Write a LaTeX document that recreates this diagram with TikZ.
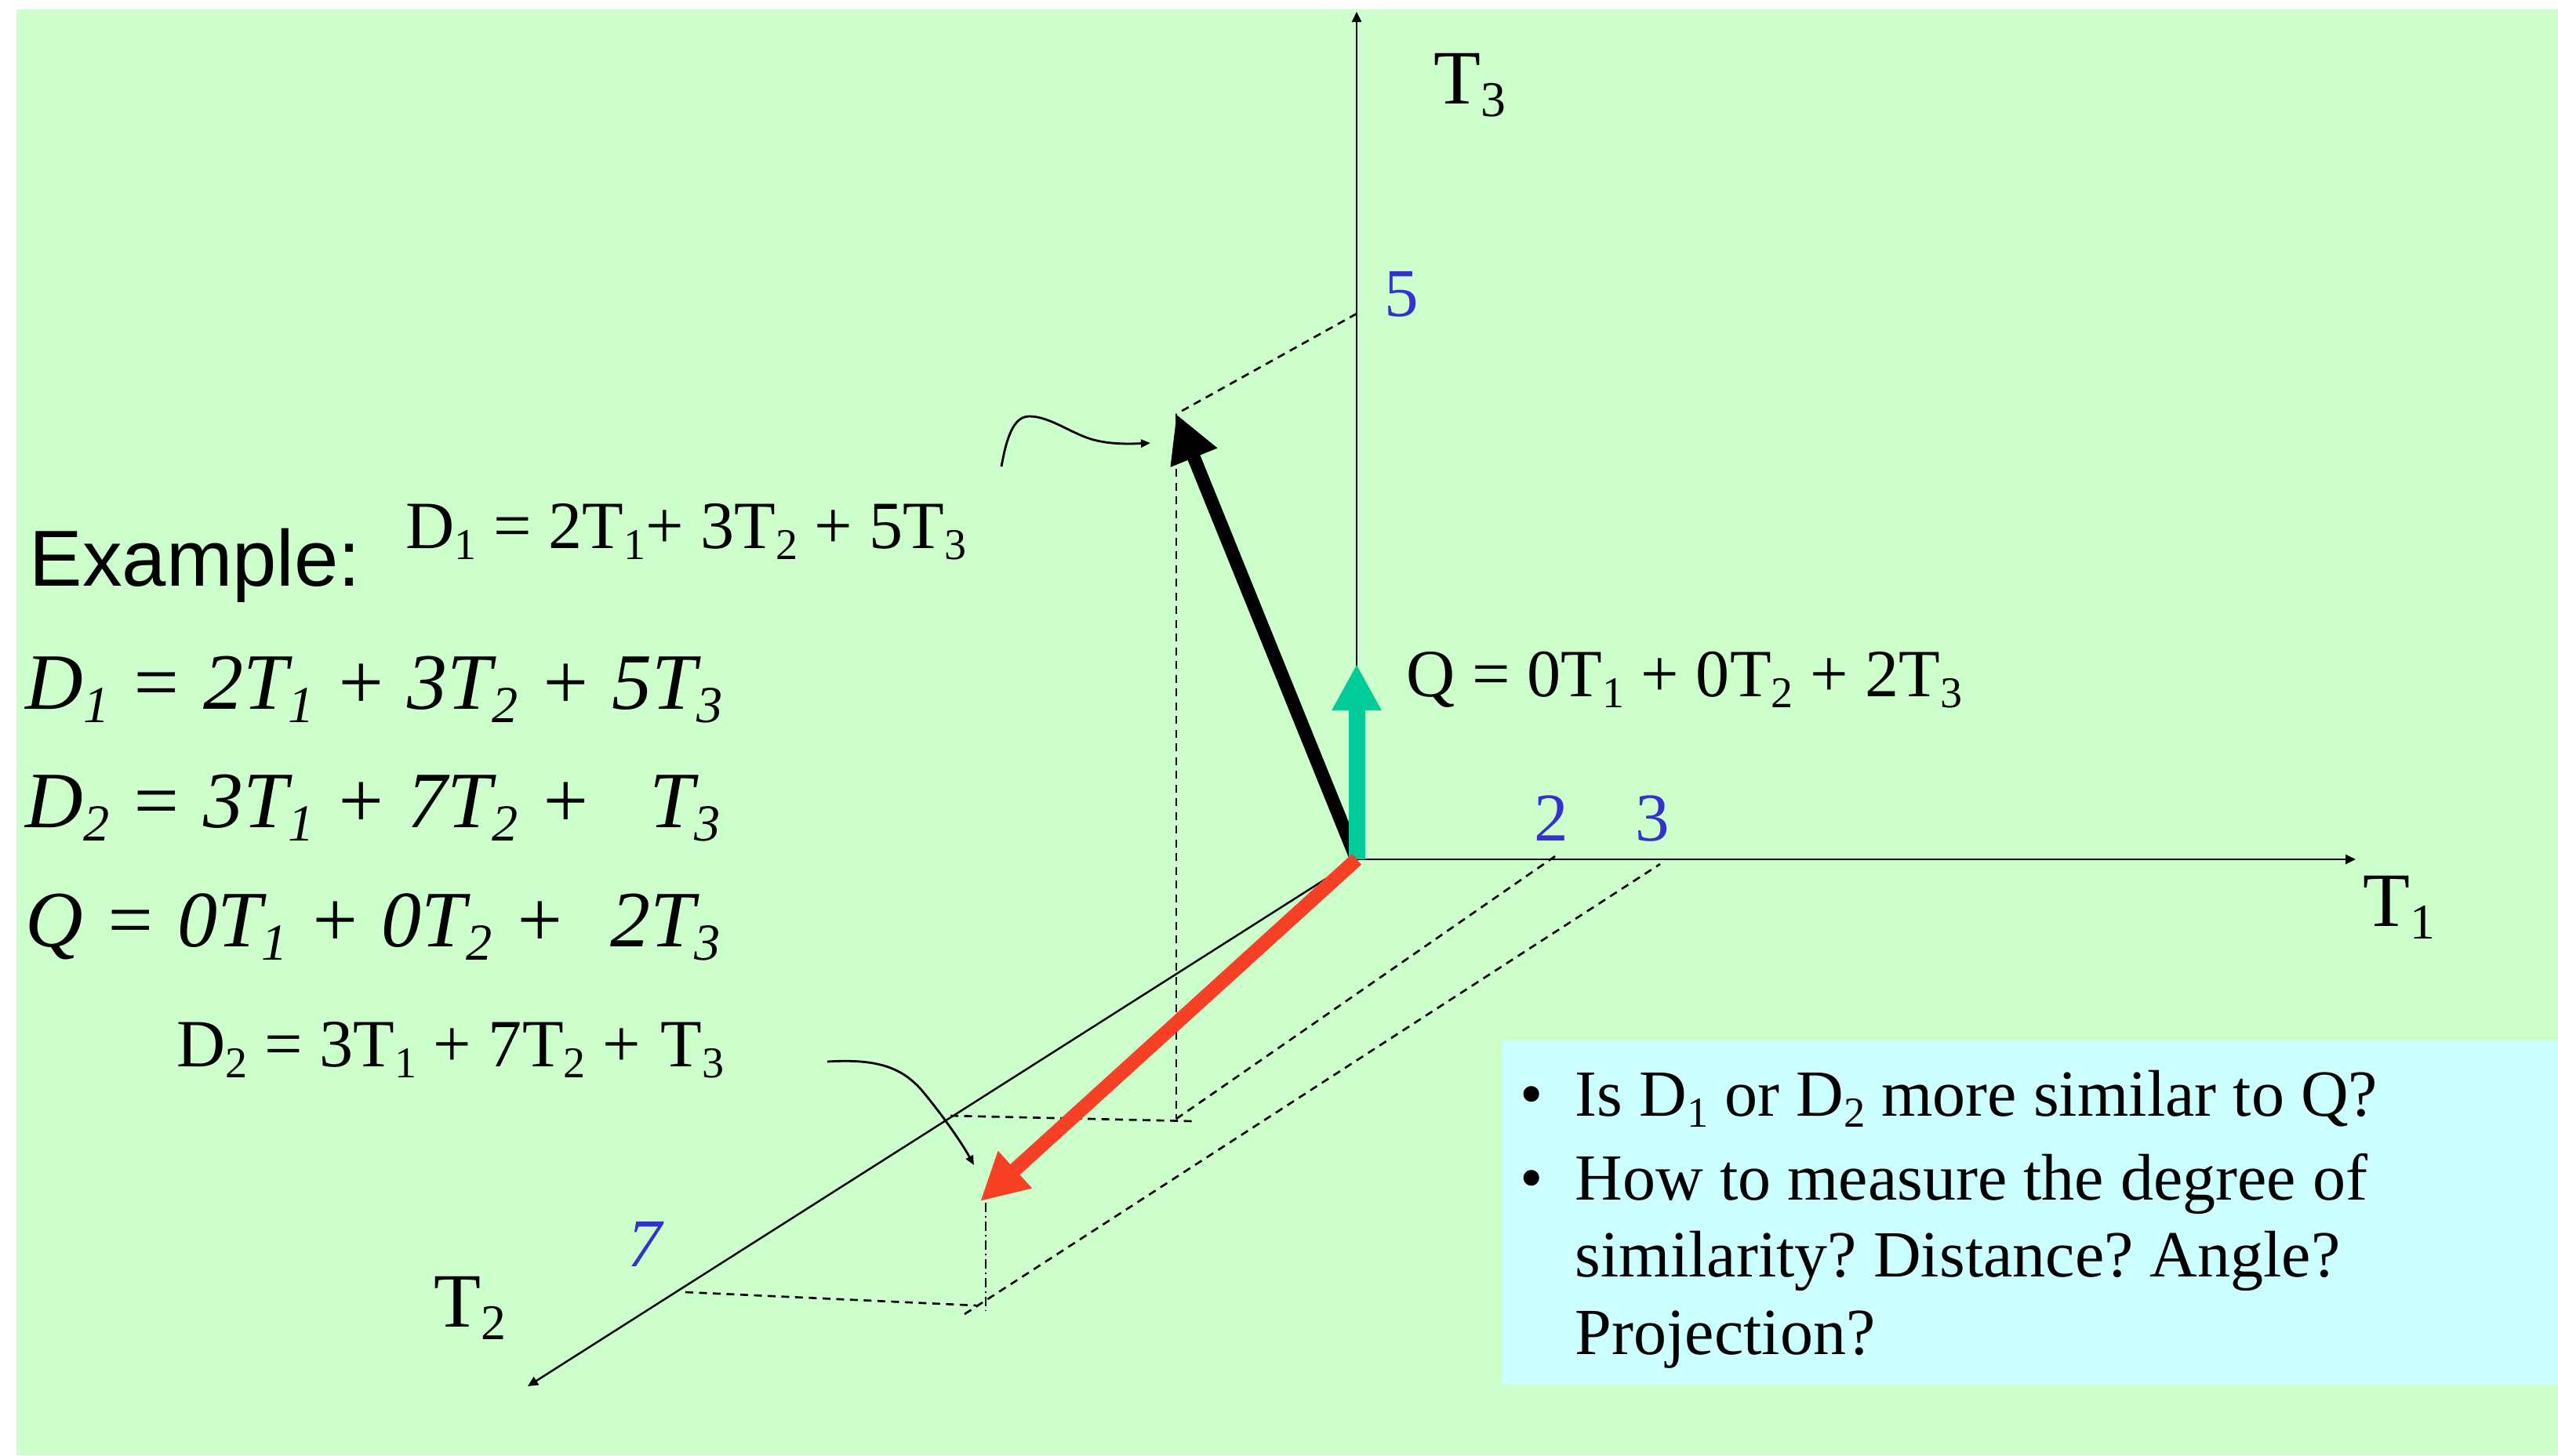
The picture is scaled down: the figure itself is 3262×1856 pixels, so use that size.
\documentclass[tikz,border=0pt]{standalone}
\usepackage{fontspec}
\setmainfont{Liberation Serif}
\newfontfamily\arialf{Liberation Sans}
\usepackage{graphicx}
\usetikzlibrary{arrows.meta}
\definecolor{bggreen}{RGB}{204,255,204}
\definecolor{boxcyan}{RGB}{204,255,255}
\definecolor{numblue}{RGB}{51,51,204}
\definecolor{dtwored}{RGB}{248,64,38}
\definecolor{qteal}{RGB}{0,204,153}
\newcommand\sbs[1]{\raisebox{-0.17em}{\scalebox{0.65}{#1}}}
\newcommand\pxf[1]{\fontsize{#1}{#1}\selectfont}
\frenchspacing
\begin{document}
\begin{tikzpicture}[x=0.01cm,y=-0.01cm,
  axis/.style={line width=0.7pt,-{Triangle[length=0.13cm,width=0.12cm]}},
  guide/.style={line width=0.75pt,dash pattern=on 0.1cm off 0.075cm},
  guidedot/.style={line width=0.75pt,dash pattern=on 0.12cm off 0.05cm on 0.02cm off 0.05cm},
  pointer/.style={line width=0.8pt,-{Triangle[length=0.12cm,width=0.1cm]}},
  lbl/.style={inner sep=0pt,anchor=base west},
  axlbl/.style={lbl,font=\pxf{27.9pt}},
  numlbl/.style={lbl,text=numblue,font=\pxf{24.8pt}},
  eqlbl/.style={lbl,font=\pxf{24.5pt}},
  biglbl/.style={lbl,font=\pxf{29pt}\itshape},
  bullbl/.style={lbl,font=\pxf{23.9pt}}]
\useasboundingbox (0,0) rectangle (3262,1856);
\fill[bggreen] (21,12) rectangle (3262,1856);
\fill[boxcyan] (1916,1327) rectangle (3262,1766);

% key points
\coordinate (O) at (1730,1096);
\coordinate (T1e) at (3004,1096);
\coordinate (T2e) at (673,1768);
\coordinate (T3e) at (1730,15);
\coordinate (T3five) at (1730,400);
\coordinate (D1) at (1500,528);
\coordinate (D1base) at (1500,1427);
\coordinate (T2three) at (1212,1423);
\coordinate (D1baseR) at (1522,1430);
\coordinate (T1two) at (1986,1090);
\coordinate (D2) at (1250,1532);
\coordinate (D2vtop) at (1257,1534);
\coordinate (D2vbot) at (1257,1672);
\coordinate (T2seven) at (874,1648);
\coordinate (D2base) at (1245,1665);
\coordinate (D2diag) at (1230,1676);
\coordinate (T1three) at (2117,1102);
\coordinate (Q) at (1730,847);
\coordinate (pa) at (1277,595);
\coordinate (pb) at (1467,565);
\coordinate (pc) at (1055,1354);
\coordinate (pd) at (1242,1486);

% axes
\draw[axis] (O) -- (T1e);
\draw[axis] (O) -- (T2e);
\draw[axis] (O) -- (T3e);

% guide lines
\draw[guide] (T3five) -- (D1);
\draw[guide] (D1) -- (D1base);
\draw[guide] (T2three) -- (D1baseR);
\draw[guide] (D1base) -- (T1two);
\draw[guidedot] (D2vtop) -- (D2vbot);
\draw[guide] (T2seven) -- (D2base);
\draw[guide] (D2diag) -- (T1three);

% pointers
\draw[pointer] (pa) .. controls (1285,550) and (1295,531) .. (1313,531)
  .. controls (1340,531) and (1370,556) .. (1399,562)
  .. controls (1420,567) and (1445,566) .. (pb);
\draw[pointer] (pc) .. controls (1120,1350) and (1150,1362) .. (1175,1390)
  .. controls (1200,1420) and (1225,1455) .. (pd);

% vectors
\draw[line width=0.17cm,-{Triangle[length=0.6cm,width=0.6cm]}] (O) -- (D1);
\draw[qteal,line width=0.21cm,-{Triangle[length=0.59cm,width=0.59cm]}] (O) -- (Q);
\draw[dtwored,line width=0.18cm,-{Triangle[length=0.6cm,width=0.6cm]}] (O) -- (D2);

% axis labels
\node[axlbl] (lT3) at (1828,132) {T\sbs{3}};
\node[axlbl] (lT1) at (3013,1181) {T\sbs{1}};
\node[axlbl] (lT2) at (553,1692) {T\sbs{2}};
\node[numlbl] (n5) at (1765,403) {5};
\node[numlbl] (n2) at (1956,1072) {2};
\node[numlbl] (n3) at (2085,1072) {3};
\node[numlbl,font=\pxf{24.8pt}\itshape] (n7) at (800,1615) {7};

% vector labels
\node[eqlbl] (lD1) at (517,699) {D\sbs{1} = 2T\sbs{1}+ 3T\sbs{2} + 5T\sbs{3}};
\node[eqlbl] (lQ) at (1793,888) {Q = 0T\sbs{1} + 0T\sbs{2} + 2T\sbs{3}};
\node[eqlbl] (lD2) at (225,1360) {D\sbs{2} = 3T\sbs{1} + 7T\sbs{2} +\hspace{0.3em}T\sbs{3}};

% example block
\node[lbl,font=\pxf{28.8pt}\arialf] (ex) at (37,747) {Example:};
\node[biglbl] (e1) at (32,904) {D\sbs{1} = 2T\sbs{1} + 3T\sbs{2} + 5T\sbs{3}};
\node[biglbl] (e2) at (32,1055) {D\sbs{2} = 3T\sbs{1} + 7T\sbs{2} +\hspace{0.72em}T\sbs{3}};
\node[biglbl] (e3) at (32,1207) {Q = 0T\sbs{1} + 0T\sbs{2} +\hspace{0.55em}2T\sbs{3}};

% question box
\node[bullbl] (b1) at (1938,1423) {\textbullet};
\node[bullbl] (q1) at (2008,1423) {Is D\sbs{1} or D\sbs{2} more similar to Q?};
\node[bullbl] (b2) at (1938,1530) {\textbullet};
\node[bullbl] (q2) at (2008,1530) {How to measure the degree of};
\node[bullbl] (q3) at (2008,1628) {similarity? Distance? Angle?};
\node[bullbl] (q4) at (2008,1727) {Projection?};
\end{tikzpicture}
\end{document}
